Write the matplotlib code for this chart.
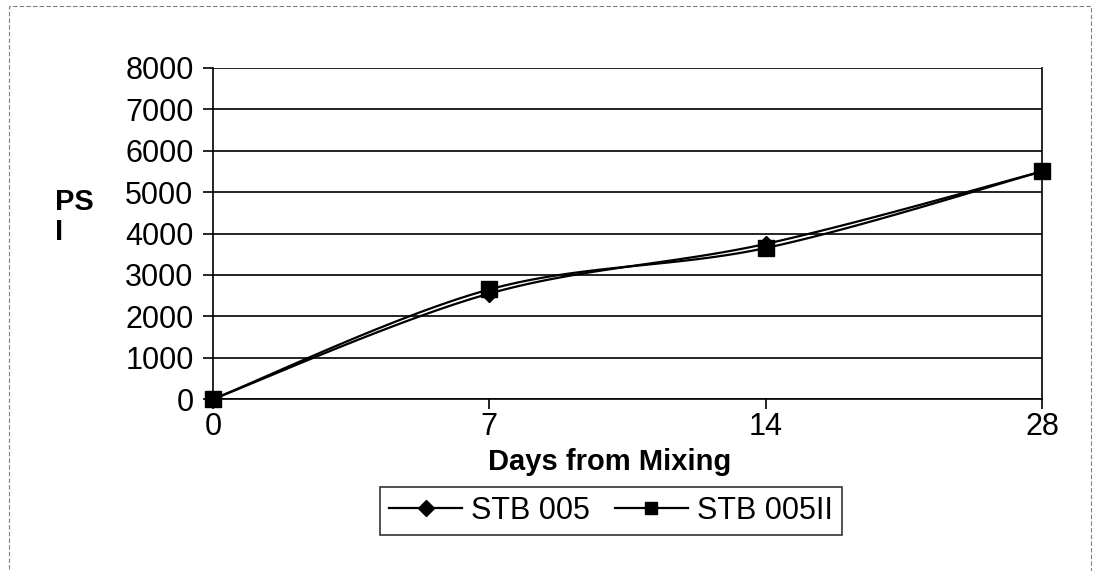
import numpy as np
import matplotlib.pyplot as plt
from matplotlib.patches import Rectangle
from matplotlib.lines import Line2D

plt.rcParams['font.family'] = ['Liberation Sans', 'DejaVu Sans']

days = ['0', '7', '14', '28']
stb005 = [0, 2550, 3750, 5500]
stb005ii = [0, 2650, 3650, 5500]


def smooth(y, n=40):
    # catmull-rom style smoothing like the spreadsheet "smoothed line"
    x = np.arange(len(y), dtype=float)
    y = np.asarray(y, dtype=float)
    px = np.concatenate([[x[0]], x, [x[-1]]])
    py = np.concatenate([[y[0]], y, [y[-1]]])
    xs, ys = [], []
    t = np.linspace(0, 1, n)
    for i in range(1, len(px) - 2):
        p0, p1, p2, p3 = [np.array([px[j], py[j]]) for j in range(i - 1, i + 3)]
        c1 = p1 + (p2 - p0) / 6
        c2 = p2 - (p3 - p1) / 6
        b = ((1 - t) ** 3)[:, None] * p1 + (3 * (1 - t) ** 2 * t)[:, None] * c1 \
            + (3 * (1 - t) * t ** 2)[:, None] * c2 + (t ** 3)[:, None] * p2
        xs.append(b[:, 0])
        ys.append(b[:, 1])
    return np.concatenate(xs), np.concatenate(ys)


fig = plt.figure(figsize=(10.99, 5.71), dpi=100)
ax = fig.add_axes([0.1938, 0.301, 0.7544, 0.580])

for vals, mk, ms in [(stb005, 'D', 8), (stb005ii, 's', 11)]:
    sx, sy = smooth(vals)
    ax.plot(sx, sy, color='black', lw=1.6, clip_on=False)
    ax.plot(range(len(vals)), vals, ls='none', marker=mk, ms=ms, color='black', clip_on=False)

ax.set_xlim(0, 3)
ax.set_ylim(0, 8000)
ax.set_yticks(range(0, 8001, 1000))
ax.set_xticks(range(len(days)))
ax.set_xticklabels(days)
ax.grid(axis='y', color='black', lw=1.2)
ax.tick_params(labelsize=22, length=7, width=1.2, color='black')
ax.tick_params(axis='x', pad=2)
ax.tick_params(axis='y', pad=7)
for s in ax.spines.values():
    s.set_linewidth(1.2)
ax.spines['top'].set_visible(False)

fig.text(0.555, 0.191, 'Days from Mixing', fontsize=21, fontweight='bold',
         ha='center', va='center')
fig.text(0.05, 0.62, 'PS\nI', fontsize=21, fontweight='bold', ha='left', va='center',
         linespacing=1.05)

handles = [Line2D([], [], color='black', lw=1.6, marker='D', ms=8),
           Line2D([], [], color='black', lw=1.6, marker='s', ms=9)]
leg = fig.legend(handles, ['STB 005', 'STB 005II'], loc='center', bbox_to_anchor=(0.556, 0.105),
                 ncol=2, fontsize=22, frameon=True, fancybox=False, edgecolor='black',
                 handlelength=2.4, handletextpad=0.3, columnspacing=0.8, borderpad=0.3)
leg.get_frame().set_linewidth(1.2)

fig.patches.append(Rectangle((0.008, -0.05), 0.985, 1.04, transform=fig.transFigure,
                             fill=False, ec='gray', lw=0.8, ls=(0, (4, 2))))

fig.savefig('out.png', dpi=100)
